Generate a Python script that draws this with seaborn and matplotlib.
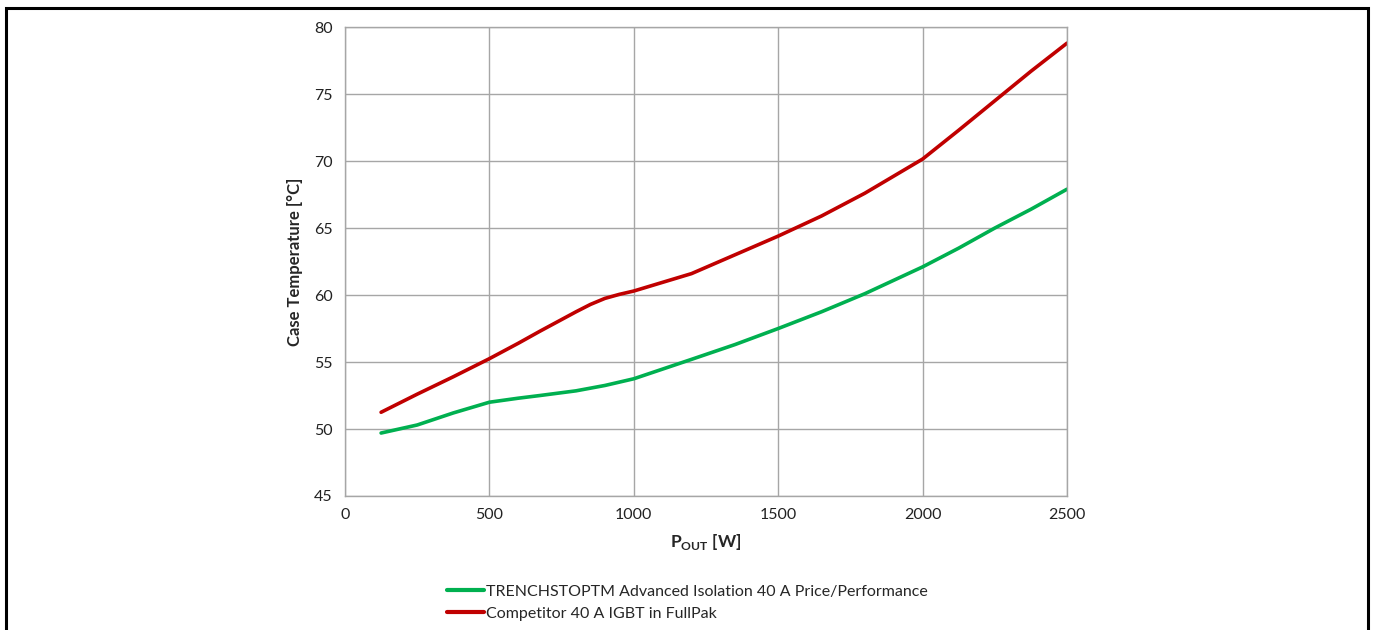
import pandas as pd
import seaborn as sns
import matplotlib.pyplot as plt
from matplotlib.patches import Rectangle

# === Data ===
p_out = [125, 250, 375, 500, 600, 675, 800, 850, 900, 950, 1000, 1200, 1350, 1500,
         1650, 1800, 2000, 2125, 2250, 2375, 2500]
temp_trenchstop = [49.7, 50.3, 51.2, 52.0, 52.3, 52.5, 52.85, 53.05, 53.25, 53.5, 53.75, 55.2, 56.3, 57.5,
                   58.75, 60.1, 62.1, 63.5, 65.0, 66.4, 67.9]
temp_competitor = [51.25, 52.6, 53.9, 55.25, 56.4, 57.3, 58.75, 59.3, 59.75, 60.05, 60.3, 61.6, 63.0, 64.4,
                   65.9, 67.6, 70.15, 72.3, 74.5, 76.7, 78.8]

series_names = ["TRENCHSTOPTM Advanced Isolation 40 A Price/Performance",
                "Competitor 40 A IGBT in FullPak"]
series_colors = ["#00b050", "#c00000"]

x_ticks = [0, 500, 1000, 1500, 2000, 2500]
y_ticks = [45, 50, 55, 60, 65, 70, 75, 80]

df = pd.DataFrame({
    "p_out": p_out * 2,
    "temp": temp_trenchstop + temp_competitor,
    "series": [series_names[0]] * len(p_out) + [series_names[1]] * len(p_out),
})

sns.set_style("white")
plt.rcParams["font.family"] = ["Lato", "DejaVu Sans"]
plt.rcParams["mathtext.fontset"] = "custom"
plt.rcParams["mathtext.rm"] = "Lato"
plt.rcParams["mathtext.bf"] = "Lato:bold"

fig = plt.figure(figsize=(13.75, 6.3), dpi=100)
ax = fig.add_axes([0.2509, 0.2127, 0.5251, 0.7443])

sns.lineplot(data=df, x="p_out", y="temp", hue="series",
             palette=dict(zip(series_names, series_colors)),
             linewidth=2.6, ax=ax, legend=False, sort=False)

ax.set_xlim(0, 2500)
ax.set_ylim(45, 80)
ax.set_xticks(x_ticks)
ax.set_yticks(y_ticks)
ax.grid(True, color="#a6a6a6", linewidth=1.0)
for side in ["left", "right", "top", "bottom"]:
    ax.spines[side].set_color("#a6a6a6")
    ax.spines[side].set_linewidth(1.0)
ax.tick_params(axis="both", length=5, color="#a6a6a6", labelsize=11.5,
               labelcolor="#222222", direction="out", pad=4)

ax.set_xlabel(r"$\mathbf{P}_{\mathbf{OUT}}$ [W]", fontsize=12.5, fontweight="bold", labelpad=7)
ax.set_ylabel("Case Temperature [°C]", fontsize=12, fontweight="bold", labelpad=8)

# legend below the plot
handles = [plt.Line2D([], [], color=c, linewidth=3) for c in series_colors]
fig.legend(handles, series_names, loc="upper left", bbox_to_anchor=(0.3195, 0.085),
           frameon=False, fontsize=11.5, handlelength=2.3, handletextpad=0.1,
           labelspacing=0.5, borderpad=0)

# outer frame
fig.add_artist(Rectangle((0.0045, -0.05), 0.9905, 1.038, transform=fig.transFigure,
                         fill=False, edgecolor="black", linewidth=2.2))

plt.savefig("out.png", dpi=100)
plt.close()
